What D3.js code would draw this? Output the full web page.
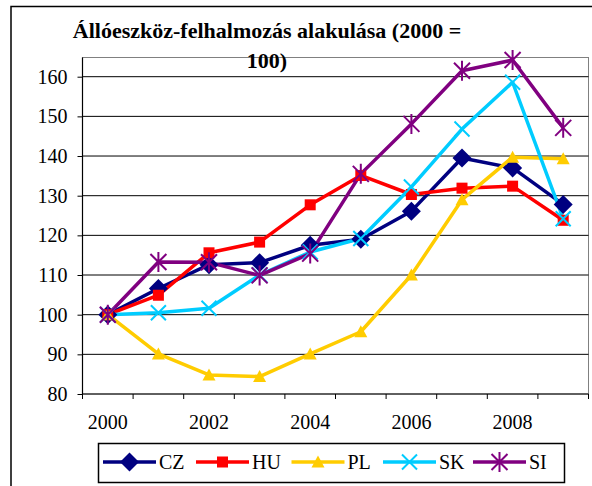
<!DOCTYPE html>
<html>
<head>
<meta charset="utf-8">
<script src="https://cdn.jsdelivr.net/npm/d3@7"></script>
</head>
<body style="margin:0">
<svg id="chart" width="592" height="486"></svg>
<script>
// ---- Data ----
const years = [2000, 2001, 2002, 2003, 2004, 2005, 2006, 2007, 2008, 2009];
const yearLabels = ["2000", "2002", "2004", "2006", "2008"];
const yTicks = [80, 90, 100, 110, 120, 130, 140, 150, 160];
const seriesNames = ["CZ", "HU", "PL", "SK", "SI"];
const CZ = [100, 106.6, 112.6, 113.1, 117.5, 119.0, 126.1, 139.5, 137.0, 127.8];
const HU = [100, 104.9, 115.6, 118.3, 127.7, 135.1, 130.3, 131.9, 132.4, 123.8];
const PL = [100, 90.1, 84.8, 84.4, 90.1, 95.7, 110.0, 129.0, 139.7, 139.3];
const SK = [100, 100.5, 101.6, 110.0, 115.8, 119.2, 132.2, 146.8, 158.6, 124.2];
const SI = [100, 113.3, 113.2, 109.9, 115.4, 135.5, 148.1, 161.5, 164.2, 147.1];
const titleLines = ["Állóeszköz-felhalmozás alakulása (2000 =", "100)"];

const FONT = "Liberation Serif";
const seriesValues = { CZ, HU, PL, SK, SI };
const colors = { CZ: "#000080", HU: "#FF0000", PL: "#FFCC00", SK: "#00CCFF", SI: "#800080" };
const markers = { CZ: "diamond", HU: "square", PL: "triangle", SK: "x", SI: "star" };

const svg = d3.select("#chart").style("display", "block");

// outer chart border (cropped at right/bottom)
svg.append("rect").attr("x", 11).attr("y", 6.5).attr("width", 620).attr("height", 520)
  .attr("fill", "none").attr("stroke", "#000").attr("stroke-width", 1.5);

const plot = { left: 82.5, right: 588.5, top: 57.5, bottom: 394 };

const xBand = d3.scaleBand().domain(years).range([plot.left, plot.right]).paddingInner(0).paddingOuter(0);
const x = d => xBand(d) + xBand.bandwidth() / 2;
const y = d3.scaleLinear().domain([80, 160]).range([394, 76.7]);

// plot area frame
svg.append("rect").attr("x", plot.left).attr("y", plot.top)
  .attr("width", plot.right - plot.left).attr("height", plot.bottom - plot.top)
  .attr("fill", "none").attr("stroke", "#808080").attr("stroke-width", 1);

// gridlines
svg.append("g").selectAll("line").data(yTicks.filter(t => t > 80)).join("line")
  .attr("x1", plot.left).attr("x2", plot.right)
  .attr("y1", d => y(d)).attr("y2", d => y(d))
  .attr("stroke", "#000").attr("stroke-width", 1);

// y axis
const yAxis = d3.axisLeft(y).tickValues(yTicks).tickSize(5).tickPadding(10).tickFormat(d3.format("d"));
const gy = svg.append("g").attr("transform", `translate(${plot.left},0)`).call(yAxis);
gy.attr("font-family", null).attr("font-size", null);
gy.select(".domain").attr("stroke", "#000").attr("stroke-width", 1.2).attr("d", `M0,${plot.top}V${plot.bottom}`);
gy.selectAll(".tick line").attr("stroke", "#000");
gy.selectAll(".tick text").style("font-family", FONT).style("font-size", "20px").attr("fill", "#000")
  .attr("dy", "0.33em");

// x axis (ticks between categories)
const gx = svg.append("g");
gx.append("line").attr("x1", plot.left).attr("x2", plot.right).attr("y1", plot.bottom).attr("y2", plot.bottom)
  .attr("stroke", "#000").attr("stroke-width", 1.2);
const boundaries = years.map(d => xBand(d)).concat([plot.right]);
gx.selectAll("line.tk").data(boundaries).join("line").attr("class", "tk")
  .attr("x1", d => d).attr("x2", d => d).attr("y1", plot.bottom).attr("y2", plot.bottom + 5)
  .attr("stroke", "#000").attr("stroke-width", 1);
gx.selectAll("text").data(yearLabels).join("text")
  .attr("x", d => x(+d)).attr("y", 429)
  .attr("text-anchor", "middle").style("font-family", FONT).style("font-size", "20px").attr("fill", "#000")
  .text(d => d);

// markers
function drawMarker(g, type, color, cx, cy) {
  if (type === "diamond") {
    const r = 9.5;
    g.append("path").attr("d", `M${cx},${cy - r}L${cx + r},${cy}L${cx},${cy + r}L${cx - r},${cy}Z`).attr("fill", color);
  } else if (type === "square") {
    const s = 11;
    g.append("rect").attr("x", cx - s / 2).attr("y", cy - s / 2).attr("width", s).attr("height", s).attr("fill", color);
  } else if (type === "triangle") {
    const r = 6.5;
    g.append("path").attr("d", `M${cx},${cy - r}L${cx + r},${cy + r * 0.85}L${cx - r},${cy + r * 0.85}Z`).attr("fill", color);
  } else if (type === "x") {
    const r = 7.5;
    g.append("path").attr("d", `M${cx - r},${cy - r}L${cx + r},${cy + r}M${cx - r},${cy + r}L${cx + r},${cy - r}`)
      .attr("stroke", color).attr("stroke-width", 2).attr("fill", "none");
  } else if (type === "star") {
    const r = 8;
    g.append("path").attr("d", `M${cx - r},${cy - r}L${cx + r},${cy + r}M${cx - r},${cy + r}L${cx + r},${cy - r}M${cx},${cy - r - 2}L${cx},${cy + r + 2}`)
      .attr("stroke", color).attr("stroke-width", 2).attr("fill", "none");
  }
}

const line = d3.line().x((d, i) => x(years[i])).y(d => y(d));
const gLines = svg.append("g");
seriesNames.forEach(name => {
  gLines.append("path").datum(seriesValues[name]).attr("d", line)
    .attr("fill", "none").attr("stroke", colors[name]).attr("stroke-width", 3.5)
    .attr("stroke-linejoin", "round");
});
const gMarks = svg.append("g");
seriesNames.forEach(name => {
  seriesValues[name].forEach((v, i) => drawMarker(gMarks, markers[name], colors[name], x(years[i]), y(v)));
});

// title
svg.append("g").selectAll("text").data(titleLines).join("text")
  .attr("x", 267).attr("y", (d, i) => 38 + i * 30)
  .attr("text-anchor", "middle").style("font-family", FONT).style("font-size", "22px").style("font-weight", "bold").attr("fill", "#000")
  .text(d => d);

// legend
const lg = svg.append("g");
lg.append("rect").attr("x", 98.5).attr("y", 443.5).attr("width", 466).attr("height", 39)
  .attr("fill", "#fff").attr("stroke", "#000").attr("stroke-width", 1.5);
const legendX = { CZ: 103, HU: 196, PL: 291.5, SK: 383, SI: 473 };
const ly = 462;
seriesNames.forEach(name => {
  const x0 = legendX[name];
  lg.append("line").attr("x1", x0).attr("x2", x0 + 53).attr("y1", ly).attr("y2", ly)
    .attr("stroke", colors[name]).attr("stroke-width", 3.5);
  drawMarker(lg, markers[name], colors[name], x0 + 26.5, ly);
  lg.append("text").attr("x", x0 + 56).attr("y", ly + 7).style("font-family", FONT).style("font-size", "20px").attr("fill", "#000").text(name);
});
</script>
</body>
</html>
